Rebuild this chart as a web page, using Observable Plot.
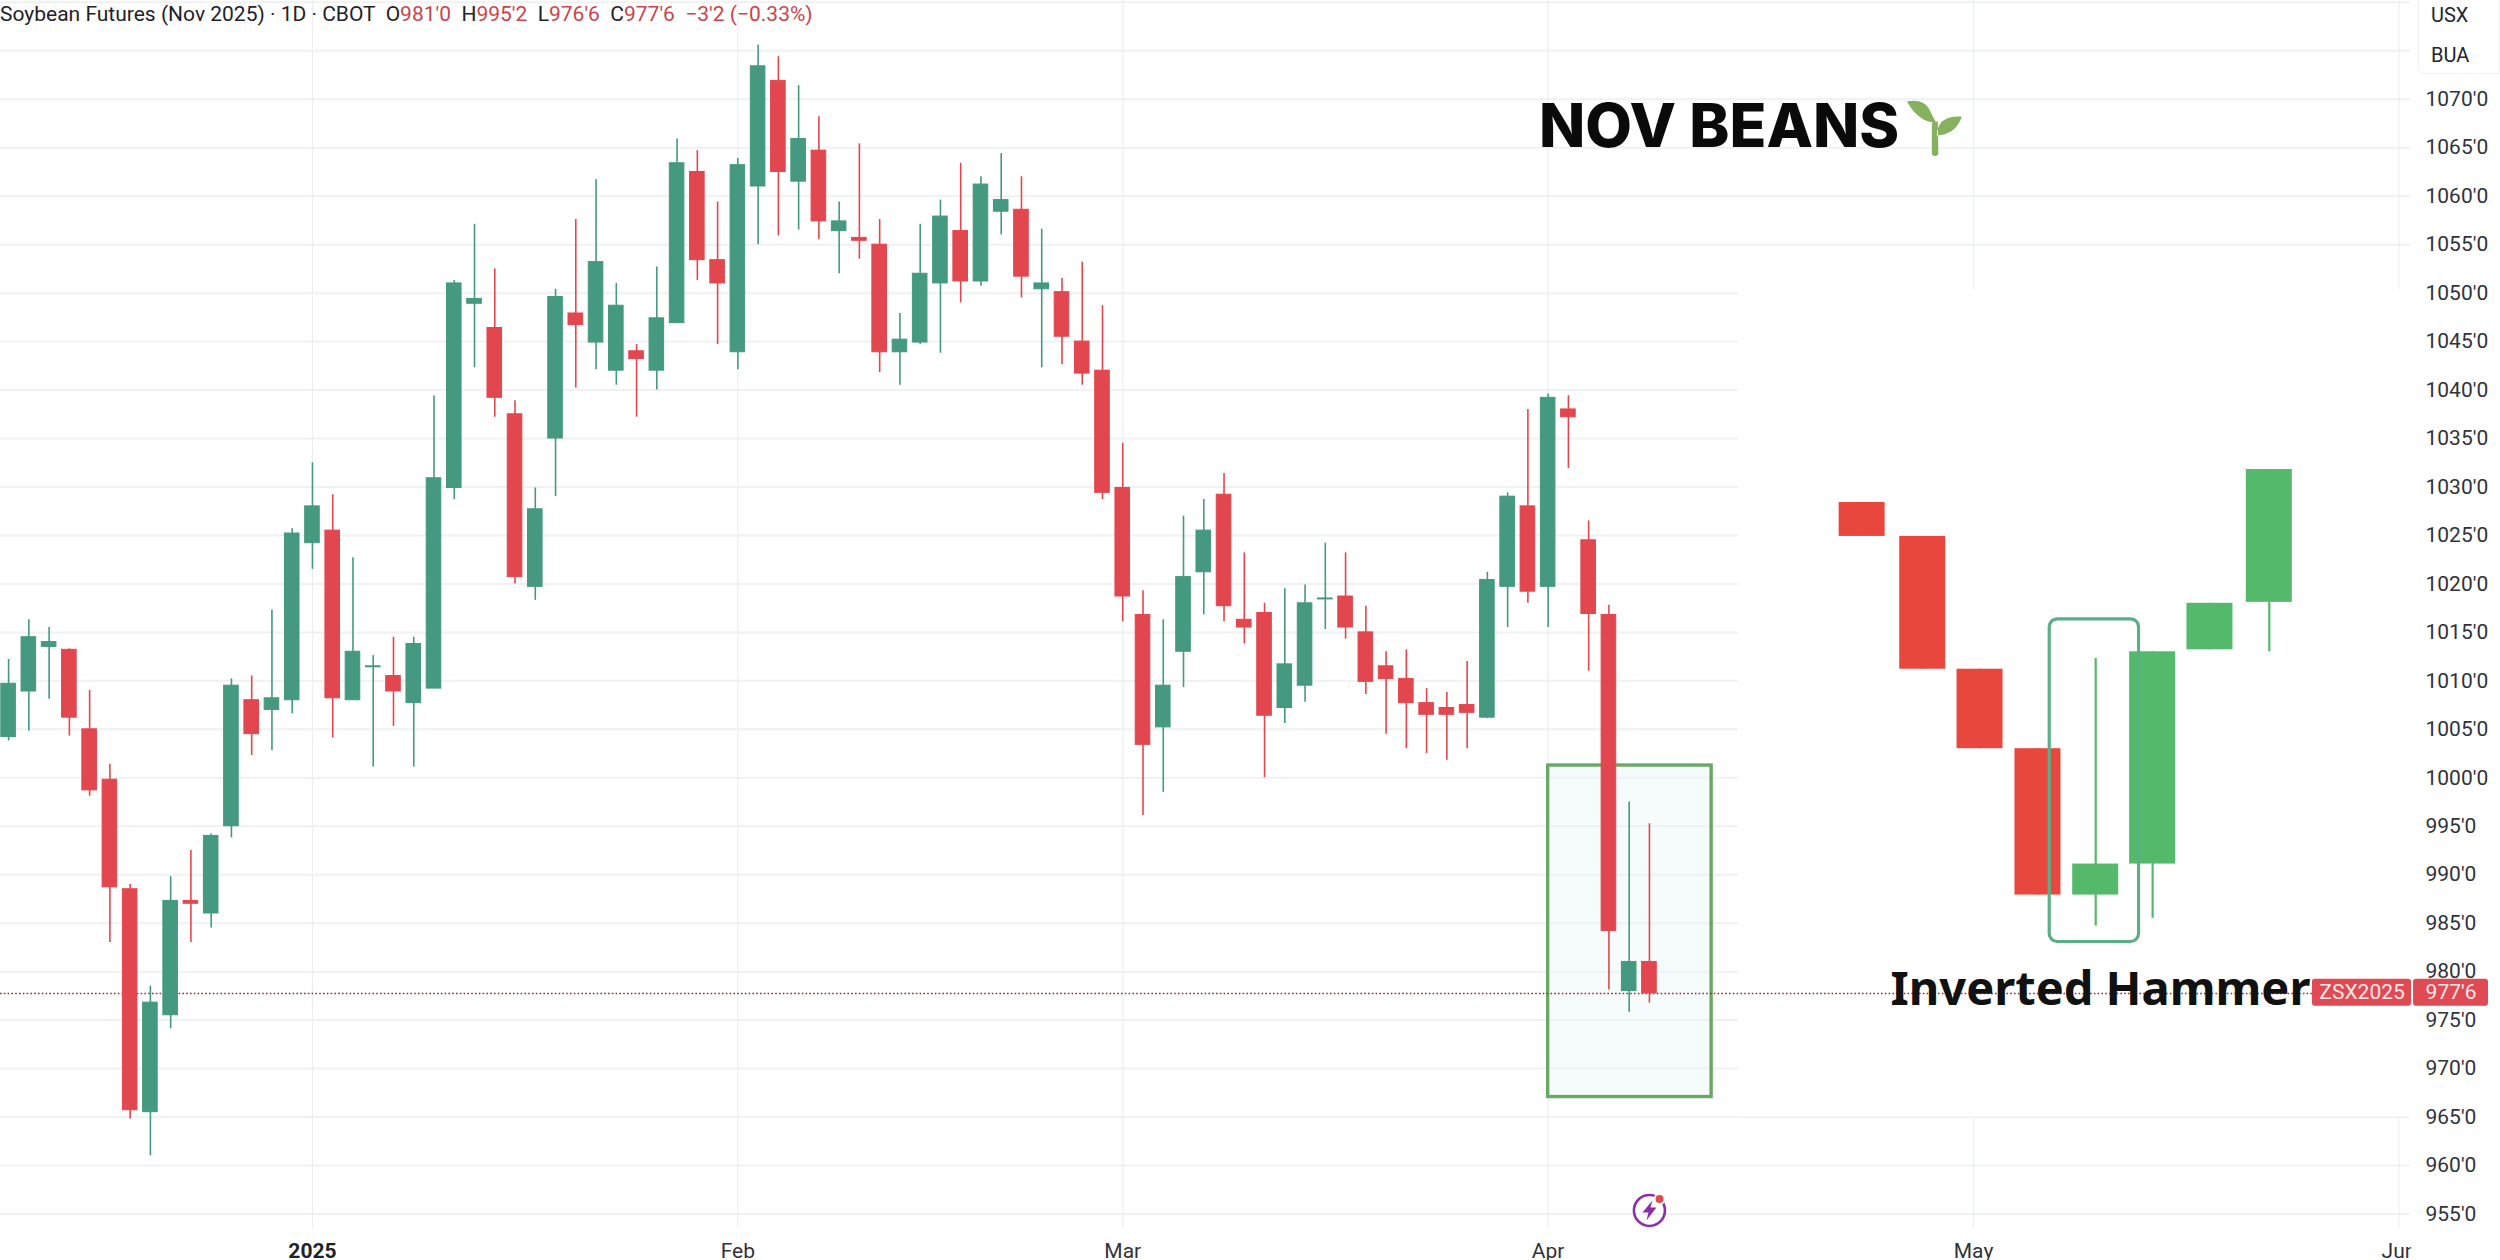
<!DOCTYPE html>
<html>
<head>
<meta charset="utf-8">
<script src="https://cdn.jsdelivr.net/npm/d3@7"></script>
<script src="https://cdn.jsdelivr.net/npm/@observablehq/plot@0.6"></script>
<style>
html,body{margin:0;padding:0;background:#fff;overflow:hidden}
#wrap{position:relative;width:2500px;height:1260px}
#chart svg{display:block}
#header{position:absolute;left:0;top:1px;font:400 21px Roboto,sans-serif;color:#1f2229;white-space:pre;line-height:26px}
#header .r{color:#c9444c}
#units{position:absolute;left:2418px;top:-2px;width:82px;height:76px;box-sizing:border-box;border:1px solid #f0f1f3;border-radius:0 0 0 7px;background:#fff;font:400 20px Roboto,sans-serif;color:#23262d}
#units div{position:absolute;left:12px}
</style>
</head>
<body>
<div id="wrap">
<div id="chart"></div>
<div id="header">Soybean Futures (Nov 2025) · 1D · CBOT  O<span class="r">981'0</span>  H<span class="r">995'2</span>  L<span class="r">976'6</span>  C<span class="r">977'6</span>  <span class="r">−3'2 (−0.33%)</span></div>
<div id="units"><div style="top:4px">USX</div><div style="top:44px">BUA</div></div>
</div>
<script>
const firstSession = -15;
const opens = [1004.2,1008.9,1013.5,1013.2,1005.0,999.8,988.5,965.5,975.5,987.3,986.0,995.0,1008.0,1007.0,1008.0,
1024.2,1025.5,1008.0,1011.4,1010.5,1007.7,1009.2,1029.9,1048.9,1046.4,1037.5,1019.7,1035.0,1047.9,1044.9,1042.0,1044.0,1042.0,1046.9,1062.5,1053.4,1043.9,1061.0,1071.9,1061.5,1064.7,
1056.4,1055.7,1055.0,1043.9,1044.9,1051.0,1056.4,1051.2,1058.4,1058.6,1050.4,1050.1,1045.0,1042.0,1029.9,1016.8,1005.2,1013.0,1021.2,1029.2,1016.3,1017.0,1007.2,1009.5,1018.4,1018.7,1015.0,1011.5,1010.2,1007.7,1007.2,1007.5,1006.2,1019.7,1028.0,1019.7,1038.0,1024.5,1016.8,978.0,981.0];
const highs = [1012.2,1016.3,1015.5,1013.3,1009.0,1001.4,989.0,978.5,989.8,992.5,994.2,1010.2,1010.5,1017.3,1025.7,
1032.5,1029.2,1022.7,1012.6,1014.5,1014.5,1039.4,1051.3,1057.1,1052.5,1038.9,1029.9,1050.4,1057.6,1061.7,1051.0,1044.7,1052.7,1065.9,1064.7,1059.4,1063.9,1075.6,1074.4,1071.4,1068.2,
1059.4,1065.4,1057.6,1047.9,1057.1,1059.6,1063.4,1062.0,1064.4,1062.0,1056.6,1051.5,1053.2,1048.7,1034.5,1019.3,1016.3,1027.0,1028.7,1031.4,1023.2,1018.0,1019.5,1019.9,1024.2,1023.2,1017.7,1013.0,1013.2,1009.2,1008.8,1012.0,1021.2,1029.4,1038.0,1039.6,1039.4,1026.5,1017.8,997.5,995.25];
const lows = [1003.8,1004.8,1008.1,1004.3,998.1,983.0,964.8,961.0,974.1,983.0,984.5,993.8,1002.3,1002.8,1006.6,
1021.5,1004.1,1008.0,1001.1,1005.3,1001.1,1009.2,1028.7,1042.3,1037.2,1020.0,1018.3,1029.0,1040.2,1042.1,1040.5,1037.2,1040.0,1046.9,1051.3,1044.7,1042.1,1055.0,1055.9,1056.5,1055.5,
1052.0,1053.5,1041.8,1040.5,1044.7,1043.8,1049.0,1050.7,1056.0,1049.5,1042.3,1042.6,1040.5,1028.7,1016.1,996.1,998.5,1009.3,1016.8,1016.1,1013.8,1000.0,1005.6,1007.8,1015.3,1014.3,1008.6,1004.5,1003.0,1002.5,1001.8,1003.0,1006.1,1015.5,1018.0,1015.5,1031.9,1011.0,978.1,975.8,976.75];
const closes = [1009.7,1014.5,1014.0,1006.2,998.7,988.7,965.7,976.8,987.3,987.0,994.0,1009.5,1004.5,1008.2,1025.2,
1028.0,1008.2,1013.0,1011.5,1008.9,1013.8,1030.9,1051.0,1049.4,1039.2,1020.7,1027.7,1049.6,1046.7,1053.2,1048.7,1043.2,1047.4,1063.4,1053.4,1051.0,1063.2,1073.4,1062.5,1065.9,1057.4,
1057.4,1055.4,1043.9,1045.2,1052.0,1057.9,1051.2,1061.2,1059.6,1051.7,1051.0,1045.5,1041.7,1029.4,1018.7,1003.4,1009.5,1020.7,1025.5,1017.7,1015.5,1006.4,1011.7,1018.0,1018.5,1015.5,1009.9,1010.2,1007.7,1006.5,1006.5,1006.7,1020.4,1029.0,1019.2,1039.2,1037.2,1016.9,984.2,981.0,977.75];

const monthTicks = [0,21,40,61,82,103];
const monthLabels = ["2025","Feb","Mar","Apr","May","Jun"];
const priceLabels = [955,960,965,970,975,980,985,990,995,1000,1005,1010,1015,1020,1025,1030,1035,1040,1045,1050,1055,1060,1065,1070];
const gridPrices = [...priceLabels,1075,1080];

// pasted illustration: eight large candles
const sketchX = [76.5,79.49,82.32,85.18,88.03,90.84,93.67,96.6];
const sketchOpen = [1028.4,1024.9,1011.2,1003.0,987.9,991.1,1013.2,1018.1];
const sketchClose = [1024.9,1011.2,1003.0,987.9,991.1,1013.0,1018.0,1031.8];
const sketchHigh = [1028.4,1024.9,1011.2,1003.0,1012.3,1013.0,1018.0,1031.8];
const sketchLow = [1024.9,1011.2,1003.0,987.9,984.7,985.5,1013.2,1013.0];

const lastPrice = 977.75;
const upColor = "#459981", downColor = "#e2474f";
const sketchUp = "#55b96b", sketchDown = "#e8473e";

const candles = opens.map((o,k)=>({i:firstSession+k,o,h:highs[k],l:lows[k],c:closes[k],col:closes[k]>=o?upColor:downColor}));
const sketch = sketchX.map((x,k)=>({x,o:sketchOpen[k],c:sketchClose[k],h:sketchHigh[k],l:sketchLow[k],col:sketchClose[k]>=sketchOpen[k]?sketchUp:sketchDown}));

const sproutSymbol = {draw(c){
  c.moveTo(-3,-7);c.lineTo(3,-7);c.lineTo(3.5,26);c.quadraticCurveTo(0,29,-3,26);c.closePath();
  c.moveTo(-28,-27);c.quadraticCurveTo(-12,-30,-6,-20);c.quadraticCurveTo(-2,-12,1,-6);c.quadraticCurveTo(-16,-6,-28,-27);c.closePath();
  c.moveTo(27,-12);c.quadraticCurveTo(14,-13,7,-7);c.quadraticCurveTo(2,-1,2,7);c.quadraticCurveTo(21,6,27,-12);c.closePath();
}};
const boltSymbol = {draw(c){
  c.moveTo(3,-10);c.lineTo(-7,2);c.lineTo(-1,2);c.lineTo(-3,10);c.lineTo(7,-3);c.lineTo(1,-3);c.closePath();
}};

const chart = Plot.plot({
  width:2500,height:1260,
  marginLeft:0,marginTop:0,marginRight:90,marginBottom:32,
  style:{background:"#fff",fontFamily:"Roboto, sans-serif",overflow:"visible"},
  x:{domain:[-15.4,103.57],axis:null},
  y:{domain:[953.5,1080.19],axis:null},
  color:{type:"identity"},
  marks:[
    Plot.gridY(gridPrices,{stroke:"#eff1f3",strokeOpacity:1,strokeWidth:2}),
    Plot.gridX(monthTicks,{stroke:"#eceef1",strokeOpacity:1,strokeWidth:1.2}),
    // white patch behind the pasted illustration
    Plot.rect([{}],{x1:70.4,x2:103.57,y1:965,y2:1050.3,fill:"#fff"}),
    // highlight box
    Plot.rect([{}],{x1:61,x2:69.07,y1:967.06,y2:1001.26,fill:"#e4f6f6",fillOpacity:0.35,stroke:"#6ba765",strokeWidth:3.4}),
    // last price line
    Plot.ruleY([lastPrice],{stroke:"#8e2f38",strokeWidth:1.6,strokeDasharray:"1.6 2.2"}),
    // candles
    Plot.ruleX(candles,{x:"i",y1:"l",y2:"h",stroke:"col",strokeWidth:1.6}),
    Plot.rect(candles,{x1:d=>d.i-0.36,x2:d=>d.i+0.36,y1:"o",y2:"c",fill:"col",stroke:"col",strokeWidth:1}),
    // illustration candles
    Plot.ruleX(sketch,{x:"x",y1:"l",y2:"h",stroke:"col",strokeWidth:2.2}),
    Plot.rect(sketch,{x1:d=>d.x-1.135,x2:d=>d.x+1.135,y1:"o",y2:"c",fill:"col"}),
    Plot.rect([{}],{x1:85.76,x2:90.17,y1:983.06,y2:1016.34,fill:"none",stroke:"#5cae88",strokeWidth:3.2,rx:8}),
    // annotations
    Plot.text(["NOV BEANS"],{x:60.55,y:1067.1,text:d=>d,textAnchor:"start",lineAnchor:"middle",fontFamily:"Inter, sans-serif",fontWeight:800,fontSize:60.5,fill:"#0a0a0a"}),
    Plot.dot([{}],{x:80.09,y:1066.98,symbol:sproutSymbol,fill:"#86b25f",stroke:"none"}),
    Plot.text(["Inverted Hammer"],{x:77.9,y:978.1,text:d=>d,textAnchor:"start",lineAnchor:"middle",fontFamily:"Noto Sans, sans-serif",fontWeight:700,fontSize:47,fill:"#111"}),
    // axes
    Plot.axisY(priceLabels,{anchor:"right",tickSize:0,tickPadding:15,textAnchor:"start",tickFormat:d=>d+"'0",fontSize:21,color:"#30333a",label:null}),
    Plot.axisX(monthTicks.slice(1),{tickSize:0,tickPadding:15,tickFormat:d=>monthLabels[monthTicks.indexOf(d)],fontSize:21,color:"#30333a",label:null}),
    Plot.axisX(monthTicks.slice(0,1),{tickSize:0,tickPadding:15,tickFormat:d=>monthLabels[monthTicks.indexOf(d)],fontSize:21,fontWeight:700,color:"#1f2229",label:null}),
    Plot.rect([{}],{x1:103.63,x2:108,y1:950,y2:953.4,fill:"#fff"}),
    // last price tags
    Plot.rect([{}],{x1:98.73,x2:103.62,y1:976.44,y2:979.22,fill:"#e04a52",rx:3}),
    Plot.rect([{}],{x1:103.72,x2:107.42,y1:976.44,y2:979.22,fill:"#e04a52",rx:3}),
    Plot.text(["ZSX2025"],{x:101.18,y:977.83,text:d=>d,fill:"#fbe9ea",fontSize:21,lineAnchor:"middle"}),
    Plot.text(["977'6"],{x:105.57,y:977.83,text:d=>d,fill:"#fbe9ea",fontSize:21,lineAnchor:"middle"}),
    // flash icon
    Plot.dot([{}],{x:66,y:955.36,r:15.5,fill:"none",stroke:"#8a2fa5",strokeWidth:2.6}),
    Plot.dot([{}],{x:66,y:955.36,symbol:boltSymbol,fill:"#8a2fa5",stroke:"none"}),
    Plot.dot([{}],{x:66.5,y:956.55,r:5,fill:"#df4a4a",stroke:"#fff",strokeWidth:2})
  ]
});
document.getElementById("chart").append(chart);
</script>
</body>
</html>
